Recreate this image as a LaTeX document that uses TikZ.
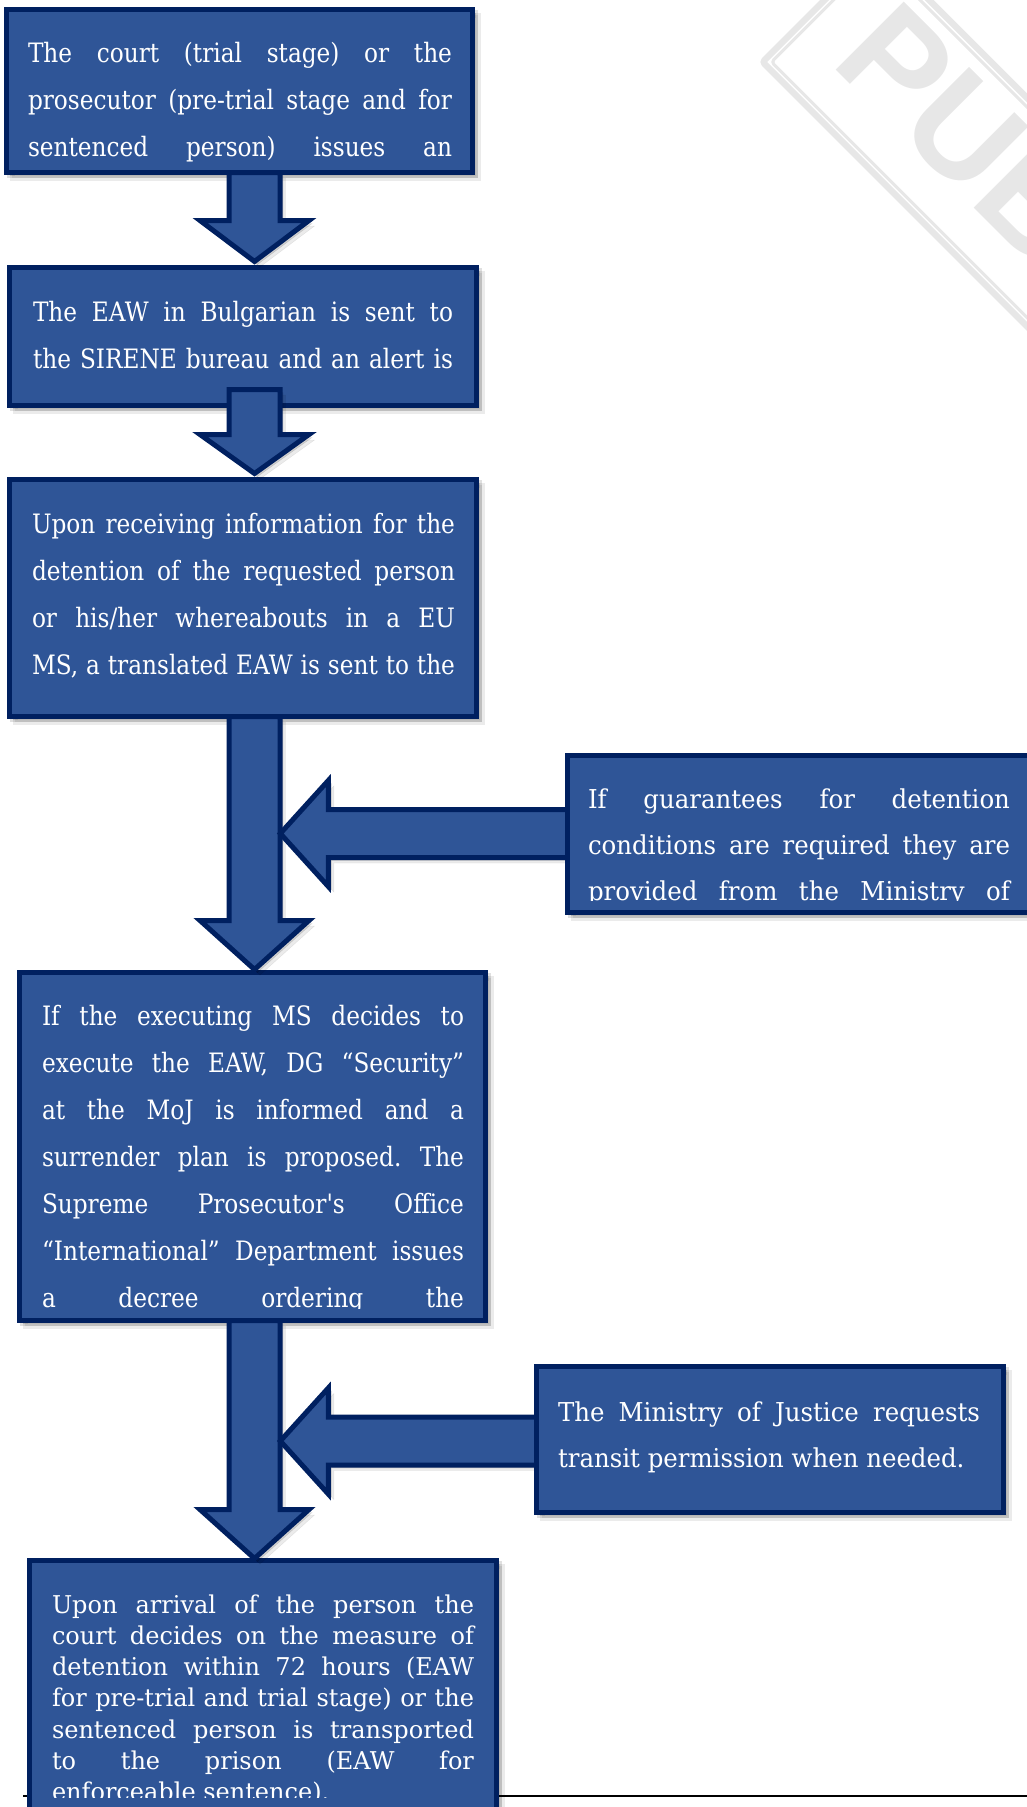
\documentclass[tikz,border=0pt]{standalone}
\usepackage{fontspec}
\setmainfont{DejaVu Serif}
\newfontfamily\mainf{DejaVu Serif}[FakeStretch=0.87]
\newfontfamily\lowf{DejaVu Serif}[FakeStretch=0.98]
\newfontfamily\sidef{DejaVu Serif}[FakeStretch=0.94]
\newfontfamily\wmf{Liberation Sans}
\usetikzlibrary{calc}
\definecolor{boxfill}{RGB}{47,85,151}
\definecolor{boxline}{RGB}{0,32,96}
\definecolor{wmgray}{RGB}{231,231,231}
\newcommand\parset{\frenchspacing\tolerance=10000\hbadness=10000\hyphenpenalty=10000\exhyphenpenalty=10000}
\newcommand\mtext{\mainf\fontsize{26.7}{47}\selectfont\parset}
\newcommand\ltext{\lowf\fontsize{24.5}{31.3}\selectfont\parset}
\newcommand\stext{\sidef\fontsize{26}{46}\selectfont\parset}
\newcommand\vblock[3]{%
  \draw[blockarrow] let \p1=#1, \p2=#2 in
    (\x1-25.5,\y1) -- (\x1-25.5,\y2+#3) -- (\x1-54.5,\y2+#3) -- (\x1,\y2)
    -- (\x1+54.5,\y2+#3) -- (\x1+25.5,\y2+#3) -- (\x1+25.5,\y1) -- cycle;}
\newcommand\hblock[3]{%
  \draw[blockarrow] let \p1=#1, \p2=#2 in
    (\x1,\y2+24) -- (\x2+#3,\y2+24) -- (\x2+#3,\y2+53) -- (\x2,\y2)
    -- (\x2+#3,\y2-53) -- (\x2+#3,\y2-24) -- (\x1,\y2-24) -- cycle;}
\tikzset{
  shadowed/.style={
    preaction={fill=black, draw=black, opacity=.08, transform canvas={shift={(5.5pt,-5.5pt)}}},
    preaction={fill=black, draw=black, opacity=.12, transform canvas={shift={(3pt,-3pt)}}}},
  blockbox/.style={rectangle, fill=boxfill, draw=boxline, line width=5pt, outer sep=0pt,
    inner sep=0pt, anchor=north west, shadowed},
  blockarrow/.style={fill=boxfill, draw=boxline, line width=5pt, line join=miter, shadowed},
  boxtext/.style={anchor=base west, inner sep=0pt, outer sep=0pt, text width=#1,
    align=justify, text=white},
  boxtext/.default=422pt,
  wmline/.style={draw=wmgray, rounded corners=3pt}
}
\begin{document}
\begin{tikzpicture}[x=1pt,y=1pt]
\useasboundingbox (0,0) rectangle (1027,-1807);
\clip (0,0) rectangle (1027,-1807);

% watermark
\begin{scope}[shift={(758,-62)}, rotate=-45]
  \draw[wmline, line width=6.4pt] (3.2,3.2) rectangle (1400,164.8);
  \draw[wmline, line width=3pt] (9.6,9.6) rectangle (1400,158.4);
  \node[transform shape, anchor=base west, inner sep=0pt, text=wmgray,
        font=\wmf\bfseries\fontsize{140}{140}\selectfont] (wm) at (52,49.5) {PUB};
\end{scope}

% footnote separator line
\draw[line width=2pt] (23,-1796) -- (1027,-1796);

% main boxes
\node[blockbox, minimum width=466pt, minimum height=163pt] (b1) at (6.5,-9.5) {};
\node[blockbox, minimum width=467pt, minimum height=138pt] (b2) at (9.5,-267.5) {};
\node[blockbox, minimum width=467pt, minimum height=237pt] (b3) at (9.5,-479.5) {};
\node[blockbox, minimum width=466pt, minimum height=348pt] (b4) at (19.5,-972.5) {};
\node[blockbox, minimum width=467pt, minimum height=300pt] (b5) at (29.5,-1560.5) {};

% texts of main boxes
\node[boxtext=424pt, font=\mtext] (t1) at (28,-62) {The court (trial stage) or the\linebreak
prosecutor (pre-trial stage and for\linebreak
sentenced person) issues an\linebreak};
\node[boxtext=420pt, font=\mtext] (t2) at (33,-321) {The EAW in Bulgarian is sent to\linebreak
the SIRENE bureau and an alert is\linebreak};
\node[boxtext=423pt, font=\mtext] (t3) at (32,-533) {Upon receiving information for the\linebreak
detention of the requested person\linebreak
or his/her whereabouts in a EU\linebreak
MS, a translated EAW is sent to the\linebreak};
\begin{scope}
  \clip (0,0) rectangle (1027,-1308.5);
  \node[boxtext, font=\mtext] (t4) at (42,-1025) {If the executing MS decides to\linebreak
  execute the EAW, DG “Security”\linebreak
  at the MoJ is informed and a\linebreak
  surrender plan is proposed. The\linebreak
  Supreme Prosecutor's Office\linebreak
  “International” Department issues\linebreak
  a decree ordering the\linebreak};
\end{scope}
\begin{scope}
  \clip (0,0) rectangle (1027,-1797);
  \node[boxtext, font=\ltext] (t5) at (52,-1613) {Upon arrival of the person the\linebreak
  court decides on the measure of\linebreak
  detention within 72 hours (EAW\linebreak
  for pre-trial and trial stage) or the\linebreak
  sentenced person is transported\linebreak
  to the prison (EAW for\linebreak
  enforceable sentence).};
\end{scope}

% vertical block arrows
\coordinate (ax) at (254.5,0);
\vblock{(b1.south -| ax)}{($(b2.north -| ax)+(0,6)$)}{41}
\vblock{($(b2.south -| ax)+(0,16)$)}{($(b3.north -| ax)+(0,6)$)}{39}
\vblock{(b3.south -| ax)}{($(b4.north -| ax)+(0,3)$)}{49}
\vblock{(b4.south -| ax)}{($(b5.north -| ax)+(0,2)$)}{49}

% side boxes with their arrows
\coordinate (j1) at (280.3,-833.5);
\coordinate (j2) at (280.3,-1441);
\path (567.5,-755) coordinate (s1c) (536.5,-1366.5) coordinate (s2c);
\hblock{($(s1c)+(10,0)$)}{(j1)}{48}
\hblock{($(s2c)+(10,0)$)}{(j2)}{48}
\node[blockbox, minimum width=464pt, minimum height=157.5pt] (s1) at (s1c) {};
\node[blockbox, minimum width=467pt, minimum height=146pt] (s2) at (s2c) {};
\begin{scope}
  \clip (0,0) rectangle (1027,-900);
  \node[boxtext, font=\stext] (s1t) at (588,-808) {If guarantees for detention\linebreak
  conditions are required they are\linebreak
  provided from the Ministry of\linebreak};
\end{scope}
\node[boxtext, font=\stext] (s2t) at (558,-1421) {The Ministry of Justice requests\linebreak
transit permission when needed.};
\end{tikzpicture}
\end{document}
